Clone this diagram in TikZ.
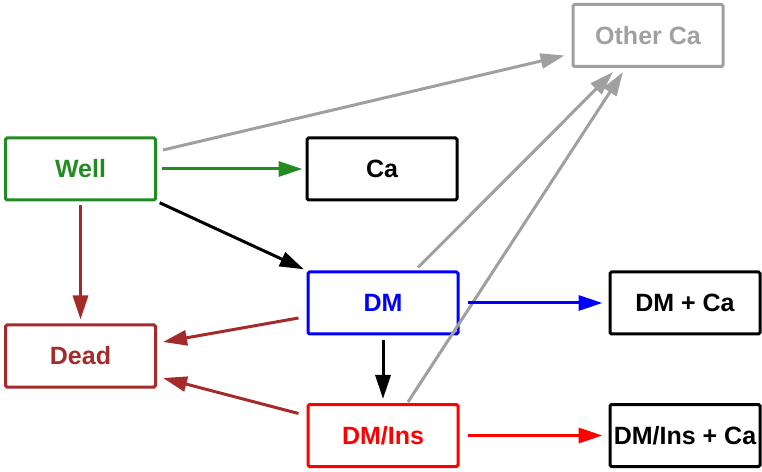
\documentclass[tikz,border=0pt]{standalone}
\usepackage{fontspec}
\setmainfont{Liberation Sans}
\usetikzlibrary{arrows.meta,calc}
\definecolor{wellgreen}{HTML}{228B22}
\definecolor{deadbrown}{HTML}{A52A2A}
\definecolor{othergray}{HTML}{A0A0A0}
\begin{document}
\begin{tikzpicture}[x=1pt,y=1pt,>={Triangle[length=24pt,width=15pt]},
  box/.style={draw,line width=3pt,rounded corners=1.5pt,minimum width=150pt,minimum height=62pt,
    inner sep=0pt,font=\fontsize{25}{30}\selectfont\bfseries},
  conn/.style={line width=3pt}]
\useasboundingbox (0,0) rectangle (762,471);
\node[box, wellgreen, text=wellgreen] (1) at (80.5,302) {Well};
\node[box] (2) at (382,302) {Ca};
\node[box, othergray, text=othergray] (3) at (648,435.5) {Other Ca};
\node[box, blue, text=blue] (4) at (383,168) {DM};
\node[box, deadbrown, text=deadbrown] (5) at (80.5,115) {Dead};
\node[box, red, text=red] (6) at (383,35.5) {DM/Ins};
\node[box] (7) at (685,168) {DM + Ca};
\node[box] (8) at (685,35.5) {DM/Ins + Ca};

\path[draw,conn,othergray,->] ($(1.east)+(6,19)$) -- ($(3.west)+(-7,-20)$);
\path[draw,conn,othergray,->] ($(4.north)+(35,3)$) -- ($(3.south)+(-35,-4)$);
\path[draw,conn,othergray,->] ($(6.north)+(25,1)$) -- ($(3.south)+(-25,-4)$);
\path[draw,conn,wellgreen,->,shorten <=5pt,shorten >=3pt] (1.east) -- (2.west);
\path[draw,conn,->,shorten <=3pt,shorten >=3pt] (1.south east) -- (4.north west);
\path[draw,conn,deadbrown,->,shorten <=4pt,shorten >=4pt] (1.south) -- (5.north);
\path[draw,conn,deadbrown,->] ($(4.west)+(-8,-15)$) -- ($(5.east)+(6,14)$);
\path[draw,conn,deadbrown,->] ($(6.west)+(-8,22)$) -- ($(5.east)+(6,-22)$);
\path[draw,conn,->,shorten <=5pt,shorten >=4pt] (4.south) -- (6.north);
\path[draw,conn,blue,->,shorten <=8pt,shorten >=6pt] (4.east) -- (7.west);
\path[draw,conn,red,->,shorten <=8pt,shorten >=6pt] (6.east) -- (8.west);
\end{tikzpicture}
\end{document}
